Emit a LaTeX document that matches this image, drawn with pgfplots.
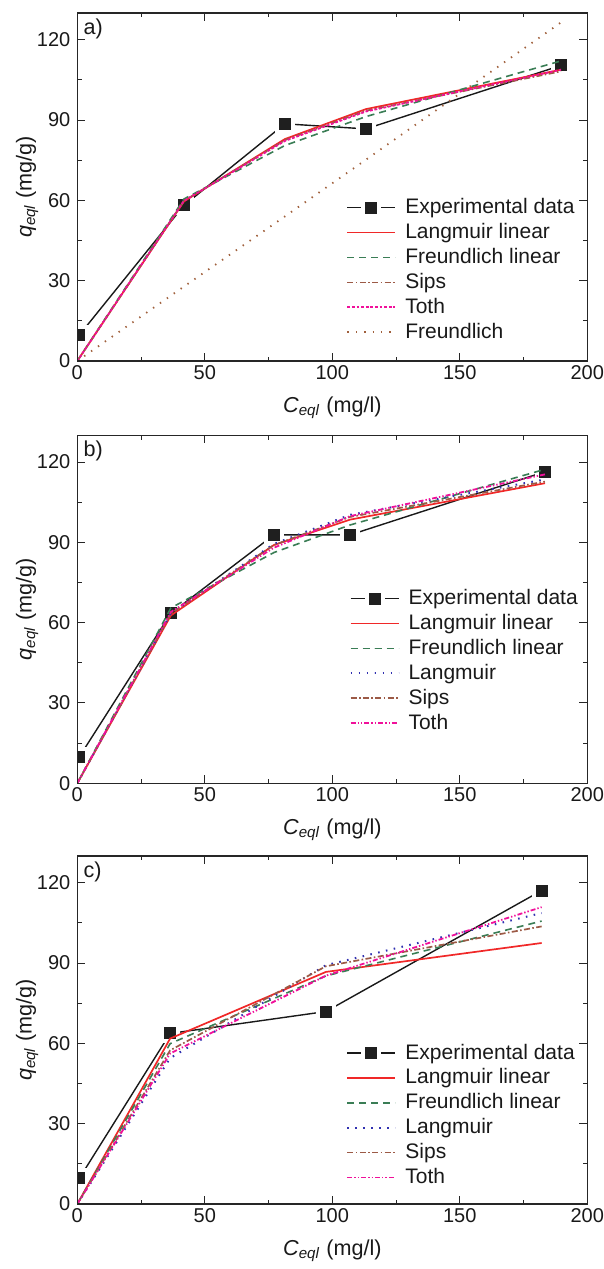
\documentclass[border=0pt]{standalone}
\usepackage{fontspec}
\setmainfont{Liberation Sans}
\usepackage{pgfplots}
\pgfplotsset{compat=1.18}

\definecolor{lred}{HTML}{F02828}
\definecolor{fgreen}{HTML}{3A7D55}
\definecolor{lblue}{HTML}{3030B0}
\definecolor{sbrown}{HTML}{9C5A46}
\definecolor{tmag}{HTML}{F0109A}
\definecolor{fbrown}{HTML}{A0603C}

% square with a white halo, so the data line stops short of each point
\pgfdeclareplotmark{gapsq}{%
  \pgfpathrectangle{\pgfpoint{-\pgfplotmarksize-2bp}{-\pgfplotmarksize-2bp}}{\pgfpoint{2\pgfplotmarksize+4bp}{2\pgfplotmarksize+4bp}}%
  \pgfsetfillcolor{white}\pgfusepath{fill}%
  \pgfpathrectangle{\pgfpoint{-\pgfplotmarksize}{-\pgfplotmarksize}}{\pgfpoint{2\pgfplotmarksize}{2\pgfplotmarksize}}%
  \pgfsetfillcolor{black!88}\pgfusepath{fill}%
}

\newcommand{\ls}{\rule[-2.2bp]{0pt}{9.8bp}\hspace*{2.5bp}}

\tikzset{plab/.style={anchor=north west, inner sep=0pt, font=\fontsize{10.8bp}{12bp}\selectfont, text=black!90, xshift=3bp, yshift=-2.5bp}}

\pgfplotsset{
  panel/.style={
    width=255bp, height=174bp, scale only axis,
    xmin=0, xmax=200, ymin=0, ymax=130,
    xtick={0,50,...,200}, ytick={0,30,...,120},
    minor x tick num=1, minor y tick num=1,
    tick align=inside, major tick length=3.9bp, minor tick length=2.2bp,
    every tick/.style={black!85, line width=0.5bp},
    axis line style={black!85, line width=0.6bp},
    axis on top, clip marker paths=true,
    tick label style={font=\fontsize{10bp}{11bp}\selectfont, black!90},
    xticklabel style={inner ysep=2bp},
    /pgf/number format/assume math mode=true,
    label style={font=\fontsize{10.8bp}{12bp}\selectfont, black!90},
    xlabel={\textit{C}\textsubscript{\textit{eql}} (mg/l)},
    ylabel={\textit{q}\textsubscript{\textit{eql}} (mg/g)},
    xlabel style={at={(axis description cs:0.5,-0.147)}, anchor=base},
    ylabel style={at={(axis description cs:-0.0894,0.5)}, anchor=base},
    legend cell align=left,
    legend style={draw=none, fill=none, inner sep=0pt, anchor=north west,
      font=\fontsize{10.5bp}{12bp}\selectfont, text=black!90,
      nodes={inner xsep=2bp, inner ysep=1.675bp}},
    legend image code/.code={\draw[mark repeat=2,mark phase=2] plot coordinates {(0bp,0bp) (12bp,0bp) (24bp,0bp)};},
  },
  expd/.style={black!90, line width=0.7bp, mark=gapsq, mark size=3bp},
  langlin/.style={lred, line width=0.85bp, no marks},
  freulin/.style={fgreen, line width=0.8bp, dash pattern=on 3.5bp off 2.5bp, no marks},
  lang/.style={lblue, line width=1bp, dash pattern=on 0.8bp off 3.2bp, no marks},
  sips/.style={sbrown, line width=0.85bp, dash pattern=on 3bp off 1.2bp on 0.8bp off 1.2bp, no marks},
  totha/.style={tmag, line width=0.9bp, dash pattern=on 1.4bp off 0.9bp, no marks},
  toth/.style={tmag, line width=0.9bp, dash pattern=on 2.5bp off 1bp on 0.7bp off 1bp on 0.7bp off 1bp, no marks},
  freu/.style={fbrown, line width=0.9bp, dash pattern=on 0.7bp off 3.5bp, no marks},
}

\begin{document}
\begin{tikzpicture}
\path[use as bounding box] (-38.65bp,-32.5bp) rectangle (263.35bp,602bp);

% a)
\begin{axis}[panel, at={(0,421.5bp)}, anchor=south west,
  legend style={at={(0.527,0.4776)}}]
\addplot[expd] coordinates {(0.8,9.7) (41.8,58.1) (81.4,88.6) (113.2,86.7) (189.7,110.4)};
\addplot[langlin] coordinates {(0,0) (41.8,59.6) (81.4,82.9) (113.2,94.1) (189.7,108.8)};
\addplot[freulin] coordinates {(0,0) (41.8,60.5) (81.4,80.5) (113.2,91.3) (189.7,112.1)};
\addplot[sips] coordinates {(0,0) (41.8,59.8) (81.4,82.5) (113.2,93.5) (189.7,108.2)};
\addplot[totha] coordinates {(0,0) (41.8,59.8) (81.4,82.2) (113.2,93.2) (189.7,108.8)};
\addplot[freu] coordinates {(0,0) (41.8,27.8) (81.4,54.0) (113.2,75.2) (189.7,126.5)};
\legend{\ls Experimental data, \ls Langmuir linear, \ls Freundlich linear, \ls Sips, \ls Toth, \ls Freundlich}
\node[plab] at (rel axis cs:0,1) {a)};
\end{axis}

% b)
\begin{axis}[panel, at={(0,210.35bp)}, anchor=south west,
  legend style={at={(0.533,0.5678)}}]
\addplot[expd] coordinates {(0.8,9.9) (36.7,63.5) (77.1,92.8) (107,92.8) (183.4,116.4)};
\addplot[langlin] coordinates {(0,0) (36.7,62.7) (77.1,89.0) (107,98.5) (183.4,112.1)};
\addplot[freulin] coordinates {(0,0) (36.7,65.5) (77.1,86.2) (107,96.5) (183.4,117.3)};
\addplot[lang] coordinates {(0,0) (36.7,63.5) (77.1,89.4) (107,100.3) (183.4,113.5)};
\addplot[sips] coordinates {(0,0) (36.7,63.5) (77.1,89.0) (107,99.5) (183.4,112.7)};
\addplot[toth] coordinates {(0,0) (36.7,64.0) (77.1,88.0) (107,99.8) (183.4,115.4)};
\legend{\ls Experimental data, \ls Langmuir linear, \ls Freundlich linear, \ls Langmuir, \ls Sips, \ls Toth}
\node[plab] at (rel axis cs:0,1) {b)};
\end{axis}

% c)
\begin{axis}[panel, at={(0,0)}, anchor=south west,
  legend style={at={(0.527,0.471)}}]
\addplot[expd] coordinates {(0.8,9.6) (36.4,63.7) (97.5,71.9) (182.1,117.1)};
\addplot[langlin] coordinates {(0,0) (36.4,61.8) (97.5,86.7) (182.1,97.5)};
\addplot[freulin] coordinates {(0,0) (36.4,59.9) (97.5,85.2) (182.1,105.7)};
\addplot[lang] coordinates {(0,0) (36.4,54.5) (97.5,89.2) (182.1,108.7)};
\addplot[sips] coordinates {(0,0) (36.4,57.4) (97.5,88.8) (182.1,103.7)};
\addplot[toth] coordinates {(0,0) (36.4,56.2) (97.5,85.3) (182.1,110.9)};
\legend{\ls Experimental data, \ls Langmuir linear, \ls Freundlich linear, \ls Langmuir, \ls Sips, \ls Toth}
\node[plab] at (rel axis cs:0,1) {c)};
\end{axis}
\end{tikzpicture}
\end{document}
